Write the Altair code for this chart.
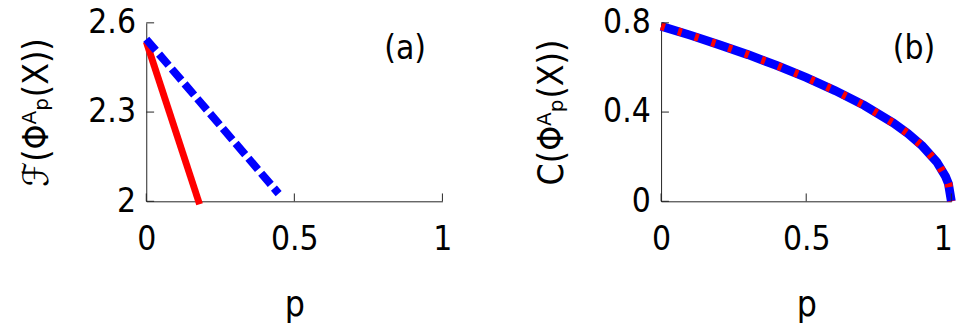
import altair as alt
import pandas as pd

# ---- data ----
# panel (a)
p_red_a = [0.0, 0.18]
f_red_a = [2.537, 1.99]
p_blue_a = [0.0, 0.447]
f_blue_a = [2.545, 2.026]

# panel (b) (both curves coincide)
p_b = [0.0, 0.1, 0.2, 0.3, 0.4, 0.5, 0.6, 0.7, 0.8, 0.85, 0.9, 0.95, 0.98, 0.99, 1.0]
c_b = [0.785, 0.745, 0.702, 0.657, 0.608, 0.555, 0.496, 0.43, 0.351, 0.304, 0.248, 0.176, 0.111, 0.079, 0.0]

x_ticks = [0, 0.5, 1]
ya_ticks = [2, 2.3, 2.6]
yb_ticks = [0, 0.4, 0.8]
panel_labels = ["(a)", "(b)"]

FONT = "DejaVu Sans Condensed, DejaVu Sans"
W1, W2, H = 302, 296, 182
TICK = 8


def panel(width, dfs, y_dom, y_ticks, y_title, label, flush_end=False):
    xs = alt.Scale(domain=[0, 1], nice=False, zero=False)
    ys = alt.Scale(domain=y_dom, nice=False, zero=False)
    xkw = {}
    if flush_end:
        xkw["labelAlign"] = alt.condition("datum.value == 1", alt.value("right"), alt.value("center"))
        xkw["labelOffset"] = alt.condition("datum.value == 1", alt.value(1), alt.value(0))
    x_axis = alt.Axis(values=x_ticks, format="~g", ticks=False, grid=False,
                      labelPadding=22, labelFlush=False, labelOverlap=False,
                      title="p", titlePadding=32, **xkw)
    y_axis = alt.Axis(values=y_ticks, format="~g", ticks=False, grid=False,
                      labelPadding=11, labelOverlap=False, title=y_title,
                      titlePadding=34, minExtent=59, maxExtent=59)
    X = lambda: alt.X("p:Q", scale=xs, axis=x_axis)
    Y = lambda: alt.Y("v:Q", scale=ys, axis=y_axis)
    layers = []
    for df, color, sw, dash in dfs:
        kw = dict(color=color, strokeWidth=sw, clip=False)
        if dash:
            kw["strokeDash"] = dash
        layers.append(alt.Chart(df).mark_line(**kw).encode(x=X(), y=Y()))
    xt = pd.DataFrame({"p": x_ticks})
    yt = pd.DataFrame({"v": y_ticks})
    layers.append(alt.Chart(xt).mark_rule(color="#222", strokeWidth=1).encode(
        x=X(), y=alt.value(H), y2=alt.value(H - TICK)))
    layers.append(alt.Chart(yt).mark_rule(color="#222", strokeWidth=1).encode(
        y=Y(), x=alt.value(0), x2=alt.value(TICK)))
    layers.append(alt.Chart(pd.DataFrame({"lab": [label]})).mark_text(
        font=FONT, fontSize=34, color="black").encode(
        text="lab:N", x=alt.value(width - 38), y=alt.value(27)))
    return alt.layer(*layers).properties(width=width, height=H)


df_red_a = pd.DataFrame({"p": p_red_a, "v": f_red_a})
df_blue_a = pd.DataFrame({"p": p_blue_a, "v": f_blue_a})
df_b = pd.DataFrame({"p": p_b, "v": c_b})

left = panel(W1, [(df_red_a, "#ff0000", 7, None), (df_blue_a, "#0000ff", 8, [15, 5])],
             [2, 2.6], ya_ticks, "ℱ(Φᴬₚ(X))", panel_labels[0])
right = panel(W2, [(df_b, "#0000ff", 9, None), (df_b, "#ff0000", 8, [4, 14])],
              [0, 0.8], yb_ticks, "C(Φᴬₚ(X))", panel_labels[1], flush_end=True)

chart = alt.hconcat(left, right, spacing=83).properties(
    padding={"left": 11, "top": -5, "right": 0, "bottom": 0}
).configure_view(stroke=None).configure_axis(
    labelFont=FONT, labelFontSize=34, labelColor="black",
    titleFont=FONT, titleFontSize=36, titleFontWeight="normal", titleColor="black",
    domainColor="#222", domainWidth=1,
)

chart.save("out.html", embed_options={"renderer": "svg", "actions": False})
